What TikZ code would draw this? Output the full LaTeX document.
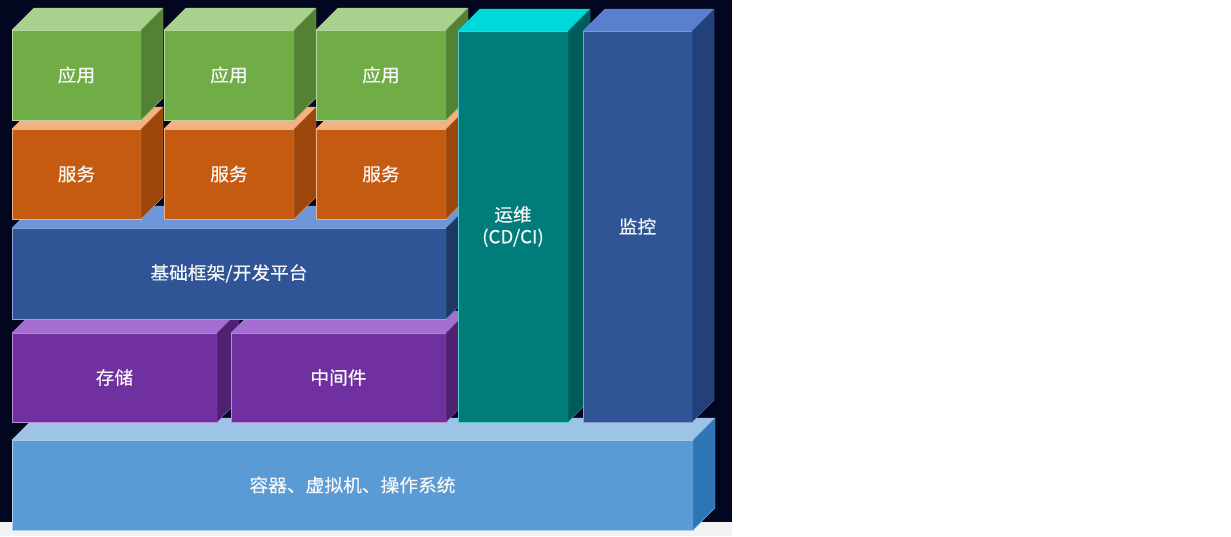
\documentclass[tikz,border=0pt]{standalone}
\usepackage{fontspec}
\newfontfamily\cjk[FakeStretch=1.04,FakeBold=0.4]{Noto Sans CJK SC}
\definecolor{bg}{HTML}{02071F}
\definecolor{app}{HTML}{70AD47}\definecolor{app0}{HTML}{A9D18E}\definecolor{app2}{HTML}{548235}
\definecolor{svc}{HTML}{C55A11}\definecolor{svc0}{HTML}{F4B183}\definecolor{svc2}{HTML}{9C460C}
\definecolor{plf}{HTML}{2F5597}\definecolor{plf0}{HTML}{6F95DA}\definecolor{plf2}{HTML}{203864}
\definecolor{mid}{HTML}{7030A0}\definecolor{mid0}{HTML}{A46FD0}\definecolor{mid2}{HTML}{4E2270}
\definecolor{ops}{HTML}{007C7A}\definecolor{ops0}{HTML}{00D9DA}\definecolor{ops2}{HTML}{005B5B}
\definecolor{mon}{HTML}{2F5597}\definecolor{mon0}{HTML}{5A7FCF}\definecolor{mon2}{HTML}{22407A}
\definecolor{base}{HTML}{5B9BD5}\definecolor{base0}{HTML}{9DC3E6}\definecolor{base2}{HTML}{2E75B6}
\begin{document}
\begin{tikzpicture}[x=1pt,y=-1pt,
    khoi/.style={inner sep=0pt,outer sep=0pt,align=center,text=white!94!gray,
        font=\cjk\fontsize{18}{22}\selectfont,line width=1pt}]
            \def\d{22}%độ sâu
            \useasboundingbox (0,0) rectangle (1231,536);
            \fill[gray!10] (0,522) rectangle (732,536);
            \fill[bg] (0,0) rectangle (732,522);
            \foreach \n/\xa/\ya/\xb/\yb/\m/\t in {
                base/12/440/693/530/base/{容器、虚拟机、操作系统},
                st/12/333/217/422/mid/{存储},
                mw/231/333/446/422/mid/{中间件},
                p/12/228/446/319/plf/{基础框架/开发平台},
                s1/12/129/141/219/svc/{服务},
                s2/164/129/294/219/svc/{服务},
                s3/316/129/446/219/svc/{服务},
                a1/12/30/141/120/app/{应用},
                a2/164/30/294/120/app/{应用},
                a3/316/30/446/120/app/{应用},
                ops/458/31/568/422/ops/{运维\\(CD/CI)},
                mon/583/31/692/422/mon/{监控}}
            {
                \node[khoi,fill=\m,draw=\m0!50!white!70!\m,minimum width=\xb-\xa,minimum height=\yb-\ya] (\n) at ({(\xa+\xb)/2},{(\ya+\yb)/2}) {\t};
                \filldraw[fill=\m0,draw=\m0,line join=round] (\n.north west) -- ++(\d,-\d) -- ([shift={(\d,-\d)}]\n.north east) -- (\n.north east) -- cycle;
                \filldraw[fill=\m2,draw=\m0!60!\m2,line join=round] (\n.north east) -- ++(\d,-\d) -- ([shift={(\d,-\d)}]\n.south east) -- (\n.south east) -- cycle;
            }
\end{tikzpicture}
\end{document}
